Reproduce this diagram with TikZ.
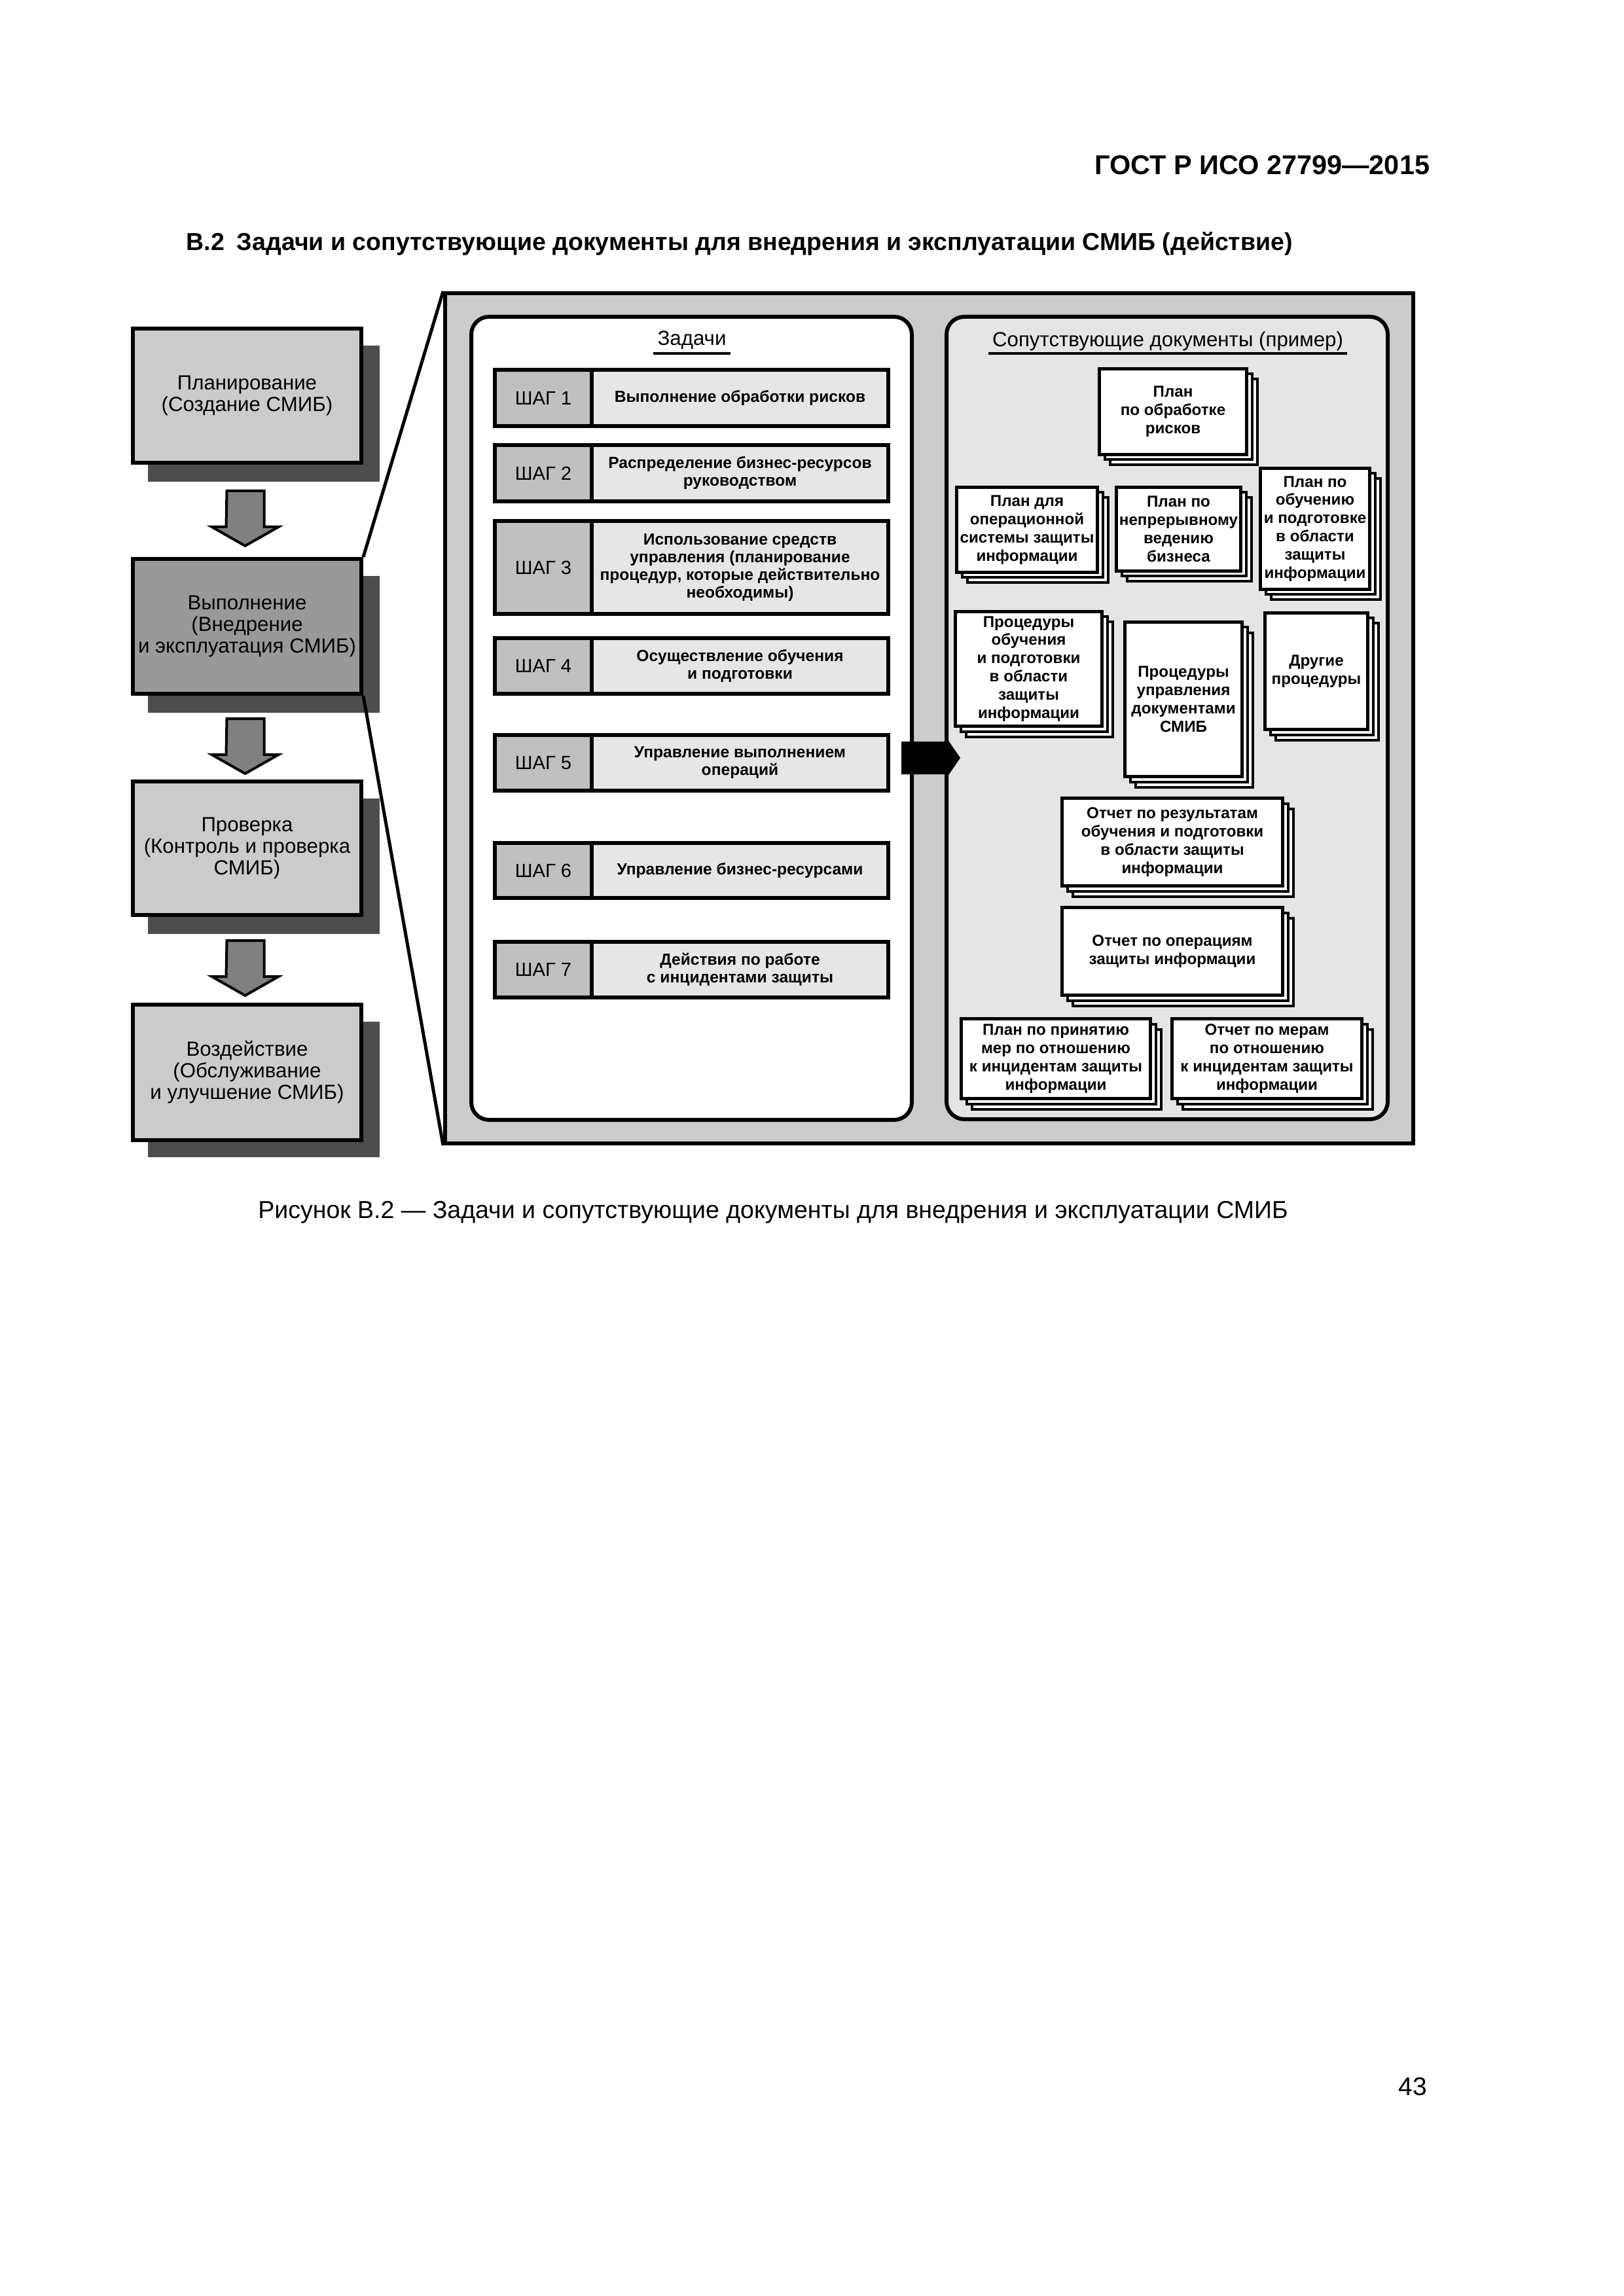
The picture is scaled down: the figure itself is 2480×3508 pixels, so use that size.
\documentclass[tikz,border=0pt]{standalone}
\usepackage{fontspec}
\setmainfont{Liberation Sans}
\usetikzlibrary{calc}
\def\pu{0.24pt}
\definecolor{boxgray}{HTML}{CCCCCC}
\definecolor{boxdark}{HTML}{999999}
\definecolor{shadowgray}{HTML}{4D4D4D}
\definecolor{arrowgray}{HTML}{808080}
\definecolor{panelgray}{HTML}{E5E5E5}
\definecolor{steplabel}{HTML}{C0C0C0}
\definecolor{steptext}{HTML}{E6E6E6}
\newcommand\docnode[6]{%
  \draw[docback] (#2-#4/2+16,#3-#5/2+16) rectangle (#2+#4/2+16,#3+#5/2+16);
  \draw[docback] (#2-#4/2+8,#3-#5/2+8) rectangle (#2+#4/2+8,#3+#5/2+8);
  \node[docfront, wh={#4}{#5}] (#1) at (#2,#3) {#6};}
\begin{document}
\begin{tikzpicture}[x=0.24pt,y=-0.24pt,
  wh/.style 2 args={minimum width=#1*\pu, minimum height=#2*\pu},
  phase/.style={draw, line width=6*\pu, fill=boxgray, inner sep=0pt, align=center,
     font=\fontsize{7.5pt}{7.9pt}\selectfont},
  blockarr/.style={draw, line width=4*\pu, fill=arrowgray, line join=miter},
  frame/.style={draw, line width=6*\pu, fill=boxgray, inner sep=0pt},
  panel/.style={draw, line width=6*\pu, rounded corners=27*\pu, inner sep=0pt},
  paneltitle/.style={inner sep=0pt, font=\fontsize{7.5pt}{8pt}\selectfont},
  steplab/.style={draw, line width=6*\pu, fill=steplabel, inner sep=0pt,
     font=\fontsize{7pt}{7.5pt}\selectfont},
  steptxt/.style={draw, line width=6*\pu, fill=steptext, inner sep=0pt, align=center,
     font=\bfseries\fontsize{5.9pt}{6.5pt}\selectfont},
  docback/.style={draw, line width=4*\pu, fill=white},
  docfront/.style={draw, line width=5*\pu, fill=white, inner sep=0pt, align=center,
     font=\bfseries\fontsize{5.8pt}{6.7pt}\selectfont},
  zoomline/.style={line width=5*\pu},
  pagetext/.style={inner sep=0pt, font=\fontsize{9pt}{11pt}\selectfont}
]
\useasboundingbox[fill=white] (0,0) rectangle (2480,3508);

% page texts
\node[pagetext, anchor=base east, font=\bfseries\fontsize{9.95pt}{11pt}\selectfont] (hdr) at (2185,267) {ГОСТ Р ИСО 27799—2015};
\node[pagetext, anchor=base west, font=\bfseries\fontsize{9pt}{11pt}\selectfont] (ttl) at (284,383) {В.2\enspace Задачи и сопутствующие документы для внедрения и эксплуатации СМИБ (действие)};
\node[pagetext, anchor=base] (cap) at (1181,1861) {Рисунок В.2 — Задачи и сопутствующие документы для внедрения и эксплуатации СМИБ};
\node[pagetext, anchor=base east, font=\fontsize{9.36pt}{11pt}\selectfont] (pg) at (2181,3201) {43};

% big frame and panels
\node[frame, wh={1479}{1299}] (frame) at (1419.5,1097.5) {};
\node[panel, fill=white, wh={673}{1227}] (lp) at (1056.5,1097.5) {};
\node[panel, fill=panelgray, wh={674}{1226}] (rp) at (1783,1097) {};

% left column shadows
\fill[shadowgray] (226,528) rectangle (580,736);
\fill[shadowgray] (226,880) rectangle (580,1089);
\fill[shadowgray] (226,1220) rectangle (580,1427);
\fill[shadowgray] (226,1561) rectangle (580,1768);

% left column boxes
\node[phase, wh={349}{205}] (b1) at (377.5,604.5) {Планирование\\(Создание СМИБ)};
\node[phase, fill=boxdark, wh={349}{206}] (b2) at (377.5,957) {Выполнение\\(Внедрение\\и эксплуатация СМИБ)};
\node[phase, wh={349}{204}] (b3) at (377.5,1296) {Проверка\\(Контроль и проверка\\СМИБ)};
\node[phase, wh={349}{207}] (b4) at (377.5,1638.5) {Воздействие\\(Обслуживание\\и улучшение СМИБ)};

% block arrows between phases
\draw[blockarr] ($(b1.south)+(-31,40)$) -- ++(57,0) -- ++(0,55) -- ++(22,0) -- ++(-51,29) -- ++(-51,-29) -- ++(22,0) -- cycle;
\draw[blockarr] ($(b2.south)+(-31,35)$) -- ++(57,0) -- ++(0,55) -- ++(22,0) -- ++(-51,29) -- ++(-51,-29) -- ++(22,0) -- cycle;
\draw[blockarr] ($(b3.south)+(-31,36)$) -- ++(57,0) -- ++(0,55) -- ++(22,0) -- ++(-51,29) -- ++(-51,-29) -- ++(22,0) -- cycle;

% zoom lines
\draw[zoomline] (b2.north east) -- (frame.north west);
\draw[zoomline] (b2.south east) -- (frame.south west);

% panel titles
\node[paneltitle, anchor=base] (tz) at (1057,528) {Задачи};
\draw[line width=4*\pu] ($(tz.base west)+(-6,12)$) -- ($(tz.base east)+(6,12)$);
\node[paneltitle, anchor=base] (td) at (1784,530) {Сопутствующие документы (пример)};
\draw[line width=4*\pu] ($(td.base west)+(-5,10)$) -- ($(td.base east)+(5,10)$);

% steps
\node[steplab, wh={148}{86}] (l1) at (830,608) {ШАГ 1};
\node[steptxt, wh={453}{86}] (t1) at (1130.5,608) {Выполнение обработки рисков};
\node[steplab, wh={148}{86}] (l2) at (830,723) {ШАГ 2};
\node[steptxt, wh={453}{86}] (t2) at (1130.5,723) {Распределение бизнес-ресурсов\\руководством};
\node[steplab, wh={148}{142}] (l3) at (830,867) {ШАГ 3};
\node[steptxt, wh={453}{142}] (t3) at (1130.5,867) {Использование средств\\управления (планирование\\процедур, которые действительно\\необходимы)};
\node[steplab, wh={148}{85}] (l4) at (830,1017.5) {ШАГ 4};
\node[steptxt, wh={453}{85}] (t4) at (1130.5,1017.5) {Осуществление обучения\\и подготовки};
\node[steplab, wh={148}{85}] (l5) at (830,1165.5) {ШАГ 5};
\node[steptxt, wh={453}{85}] (t5) at (1130.5,1165.5) {Управление выполнением\\операций};
\node[steplab, wh={148}{84}] (l6) at (830,1330) {ШАГ 6};
\node[steptxt, wh={453}{84}] (t6) at (1130.5,1330) {Управление бизнес-ресурсами};
\node[steplab, wh={148}{85}] (l7) at (830,1481.5) {ШАГ 7};
\node[steptxt, wh={453}{85}] (t7) at (1130.5,1481.5) {Действия по работе\\с инцидентами защиты};

% documents
\docnode{d1}{1792}{629}{225}{131}{План\\по обработке\\рисков}
\docnode{d2}{1569}{809.5}{215}{130}{План для\\операционной\\системы защиты\\информации}
\docnode{d3}{1800.5}{808.5}{190}{128}{План по\\непрерывному\\ведению\\бизнеса}
\docnode{d4}{2009}{808}{167}{185}{План по\\обучению\\и подготовке\\в области\\защиты\\информации}
\docnode{d5}{1571.5}{1022}{224}{175}{Процедуры\\обучения\\и подготовки\\в области\\защиты\\информации}
\docnode{d6}{1808}{1068.5}{179}{236}{Процедуры\\управления\\документами\\СМИБ}
\docnode{d7}{2011}{1025.5}{157}{178}{Другие\\процедуры}
\docnode{d8}{1791}{1286.5}{337}{134}{Отчет по результатам\\обучения и подготовки\\в области защиты\\информации}
\docnode{d9}{1791}{1453.5}{337}{134}{Отчет по операциям\\защиты информации}
\docnode{d10}{1613}{1617.5}{289}{122}{План по принятию\\мер по отношению\\к инцидентам защиты\\информации}
\docnode{d11}{1935.5}{1617.5}{290}{122}{Отчет по мерам\\по отношению\\к инцидентам защиты\\информации}

% black arrow from tasks to documents
\coordinate (ab) at ($(lp.east)+(-19,60.5)$);
\fill (ab) ++(0,-25) -- ++(66,0) -- ++(0,-10) -- ++(24,35) -- ++(-24,35) -- ++(0,-10) -- ++(-66,0) -- cycle;
\end{tikzpicture}
\end{document}
